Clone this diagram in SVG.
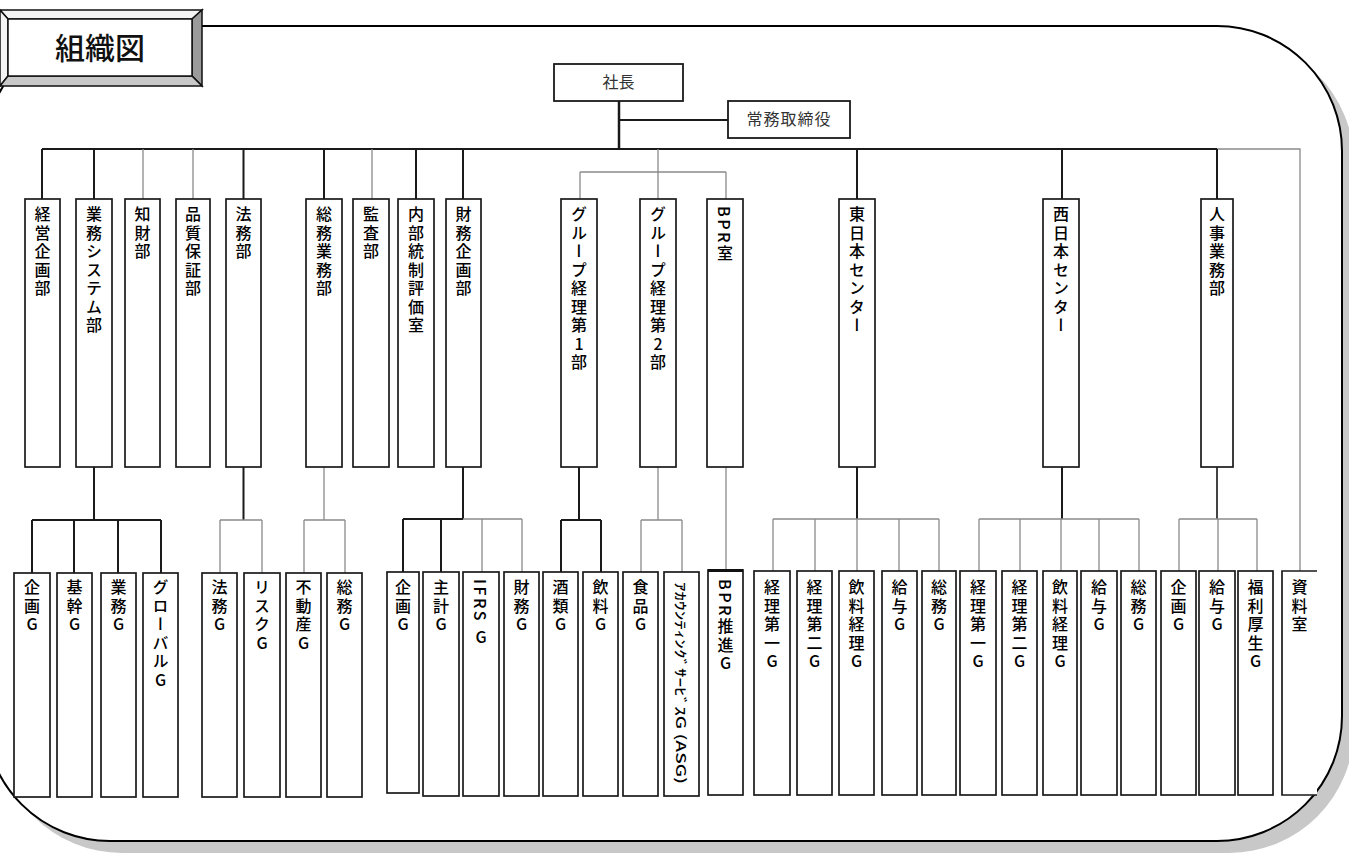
<svg xmlns="http://www.w3.org/2000/svg" width="1349" height="854" viewBox="0 0 1349 854">
<style>
.frame{fill:#fff;stroke:#000;stroke-width:2}
.shadow{fill:#c8c8c8;stroke:none}
.box{fill:#fff;stroke:#1a1a1a;stroke-width:1.7}
.hbox{fill:#fff;stroke:#1a1a1a;stroke-width:1.8}
.d{fill:none;stroke:#1a1a1a;stroke-width:2}
.g{fill:none;stroke:#8a8a8a;stroke-width:1.3}
.v{writing-mode:vertical-rl;text-orientation:upright;font-family:"Noto Sans CJK JP","Noto Sans CJK SC",sans-serif;font-size:16px;font-weight:500;letter-spacing:2.5px;fill:#000}
.vm{writing-mode:vertical-rl;text-orientation:mixed;font-family:"Noto Sans CJK JP","Noto Sans CJK SC",sans-serif;font-size:16px;font-weight:500;letter-spacing:2.5px;fill:#000}
.h{font-family:"Noto Sans CJK JP","Noto Sans CJK SC",sans-serif;font-size:16px;fill:#333;text-anchor:middle}
.t{font-family:"Noto Sans CJK JP","Noto Sans CJK SC",sans-serif;font-size:30px;font-weight:500;fill:#111;text-anchor:middle}
</style>
<rect width="1349" height="854" fill="#fff"/>
<g id="frame">
<rect class="shadow" x="-3" y="38" width="1357" height="815" rx="125" ry="125"/>
<rect class="frame" x="-15" y="26" width="1357" height="815" rx="125" ry="125"/>
</g>
<g id="title">
<polygon points="0,10 202,10 192,19 8,19" fill="#f4f4f4" stroke="#111" stroke-width="1.5"/>
<polygon points="0,10 8,19 8,76 0,86" fill="#f4f4f4" stroke="#111" stroke-width="1.5"/>
<polygon points="202,10 202,86 192,76 192,19" fill="#9a9a9a" stroke="#111" stroke-width="1.5"/>
<polygon points="0,86 8,76 192,76 202,86" fill="#c8c8c8" stroke="#111" stroke-width="1.5"/>
<rect x="8" y="19" width="184" height="57" fill="#fff" stroke="#111" stroke-width="1.5"/>
<text class="t" x="100" y="59">組織図</text>
</g>
<g id="connectors">
<path class="d" d="M619,101V149" style="stroke-width:2.5"/>
<path class="d" d="M619,120H728"/>
<path class="d" d="M42,149H1217"/>
<path class="g" d="M1217,149H1300V572"/>
<path class="d" d="M42,149V199M94,149V199M243.5,149V199M324,149V199M416,149V199M463,149V199M857,149V199M1062,149V199M1217,149V199"/>
<path class="g" d="M143,149V199M193,149V199M372,149V199"/>
<path class="g" d="M658,149V199M580,172H726M580,172V199M726,172V199"/>
<path class="d" d="M94,467V520M32,520H161M32,520V573M74,520V573M118,520V573M161,520V573"/>
<path class="d" d="M243.5,467V520"/>
<path class="g" d="M220,520H262M220,520V573M262,520V573"/>
<path class="g" d="M324,467V520M304,520H345M304,520V573M345,520V573"/>
<path class="d" d="M463,467V519M403,519H463M403,519V572M441,519V572"/>
<path class="g" d="M463,519H522M482,519V572M522,519V572"/>
<path class="d" d="M579,467V520M561,520H601M561,520V572M601,520V572"/>
<path class="g" d="M658,467V520M641,520H682M641,520V572M682,520V572"/>
<path class="g" d="M726,467V570"/>
<path class="d" d="M857,467V519"/>
<path class="g" d="M773,519H939M773,519V571M815,519V571M857,519V571M899,519V571M939,519V571"/>
<path class="d" d="M1062,467V519"/>
<path class="g" d="M979,519H1139M979,519V571M1020,519V571M1061,519V571M1099,519V571M1139,519V571"/>
<path class="d" d="M1217,467V519" style="stroke:#444"/>
<path class="g" d="M1179,519H1257M1179,519V571M1218,519V571M1257,519V571"/>
</g>
<g id="n-shacho"><rect class="hbox" x="554" y="64" width="129" height="37"/><text class="h" x="618.5" y="88">社長</text></g>
<g id="n-jomu"><rect class="hbox" x="728" y="101" width="122" height="37"/><text class="h" x="789" y="125" letter-spacing="1">常務取締役</text></g>

<g id="n-keiei"><rect class="box" x="25" y="199" width="35" height="268"/><text class="v" x="42.5" y="206">経営企画部</text></g>
<g id="n-gyomusys"><rect class="box" x="76" y="199" width="36" height="268"/><text class="v" x="94" y="206" letter-spacing="1.5">業務システム部</text></g>
<g id="n-chizai"><rect class="box" x="125" y="199" width="35" height="268"/><text class="v" x="142.5" y="206">知財部</text></g>
<g id="n-hinshitsu"><rect class="box" x="176" y="199" width="34" height="268"/><text class="v" x="193" y="206">品質保証部</text></g>
<g id="n-homu"><rect class="box" x="226" y="199" width="35" height="268"/><text class="v" x="243.5" y="206">法務部</text></g>
<g id="n-somugyomu"><rect class="box" x="306" y="199" width="36" height="268"/><text class="v" x="324" y="206">総務業務部</text></g>
<g id="n-kansa"><rect class="box" x="353" y="199" width="36" height="268"/><text class="v" x="371" y="206">監査部</text></g>
<g id="n-naibu"><rect class="box" x="398" y="199" width="36" height="268"/><text class="v" x="416" y="206">内部統制評価室</text></g>
<g id="n-zaimu"><rect class="box" x="446" y="199" width="35" height="268"/><text class="v" x="463.5" y="206">財務企画部</text></g>
<g id="n-group1"><rect class="box" x="561" y="199" width="36" height="268"/><text class="v" x="579" y="206" letter-spacing="1.5">グループ経理第1部</text></g>
<g id="n-group2"><rect class="box" x="640" y="199" width="36" height="268"/><text class="v" x="658" y="206" letter-spacing="1.5">グループ経理第2部</text></g>
<g id="n-bpr"><rect class="box" x="707" y="199" width="36" height="268"/><text class="vm" x="725" y="206" letter-spacing="0.5">BPR室</text></g>
<g id="n-higashi"><rect class="box" x="839" y="199" width="36" height="268"/><text class="v" x="857" y="206" letter-spacing="1.5">東日本センター</text></g>
<g id="n-nishi"><rect class="box" x="1043" y="199" width="36" height="268"/><text class="v" x="1061" y="206" letter-spacing="1.5">西日本センター</text></g>
<g id="n-jinji"><rect class="box" x="1201" y="199" width="32" height="268"/><text class="v" x="1217" y="206">人事業務部</text></g>

<g id="n-kikaku1"><rect class="box" x="14" y="573" width="36" height="224"/><text class="v" x="32" y="579">企画G</text></g>
<g id="n-kikan"><rect class="box" x="57" y="573" width="35" height="224"/><text class="v" x="74.5" y="579">基幹G</text></g>
<g id="n-gyomug"><rect class="box" x="101" y="573" width="35" height="224"/><text class="v" x="118.5" y="579">業務G</text></g>
<g id="n-global"><rect class="box" x="143" y="573" width="35" height="224"/><text class="v" x="160.5" y="579">グローバルG</text></g>
<g id="n-homug"><rect class="box" x="202" y="573" width="35" height="224"/><text class="v" x="219.5" y="579">法務G</text></g>
<g id="n-risk"><rect class="box" x="244" y="573" width="36" height="224"/><text class="v" x="262" y="579">リスクG</text></g>
<g id="n-fudosan"><rect class="box" x="286" y="573" width="35" height="224"/><text class="v" x="303.5" y="579">不動産G</text></g>
<g id="n-somug1"><rect class="box" x="327" y="573" width="35" height="224"/><text class="v" x="344.5" y="579">総務G</text></g>
<g id="n-kikaku2"><rect class="box" x="387" y="572" width="32" height="221"/><text class="v" x="403" y="579">企画G</text></g>
<g id="n-shukei"><rect class="box" x="423" y="572" width="36" height="224"/><text class="v" x="441" y="579">主計G</text></g>
<g id="n-ifrs"><rect class="box" x="463" y="572" width="36" height="224"/><text class="vm" x="481" y="579" letter-spacing="0.5">IFRS <tspan style="text-orientation:upright">G</tspan></text></g>
<g id="n-zaimug"><rect class="box" x="504" y="572" width="35" height="224"/><text class="v" x="521.5" y="579">財務G</text></g>
<g id="n-sakerui"><rect class="box" x="543" y="572" width="35" height="224"/><text class="v" x="560.5" y="579">酒類G</text></g>
<g id="n-inryo"><rect class="box" x="583" y="572" width="35" height="224"/><text class="v" x="600.5" y="579">飲料G</text></g>
<g id="n-shokuhin"><rect class="box" x="623" y="572" width="35" height="224"/><text class="v" x="640.5" y="579">食品G</text></g>
<g id="n-asg"><rect class="box" x="664" y="572" width="35" height="224"/><text font-family="Noto Sans CJK JP, sans-serif" font-size="13" font-weight="500" fill="#000" transform="translate(676,582) rotate(90)" textLength="202" lengthAdjust="spacingAndGlyphs">ｱｶｳﾝﾃｨﾝｸﾞｻｰﾋﾞｽG (ASG)</text></g>
<g id="n-bprsuishin"><rect class="box" x="708" y="570" width="35" height="225"/><path d="M708,570.5H743" stroke="#111" stroke-width="3"/><text class="vm" x="725.5" y="579" letter-spacing="1">BPR推進<tspan style="text-orientation:upright">G</tspan></text></g>
<g id="n-e-keiri1"><rect class="box" x="754" y="571" width="36" height="224"/><text class="v" x="772" y="579" letter-spacing="4.5">経理第一G</text></g>
<g id="n-e-keiri2"><rect class="box" x="797" y="571" width="35" height="224"/><text class="v" x="814.5" y="579" letter-spacing="4.5">経理第二G</text></g>
<g id="n-e-inryo"><rect class="box" x="839" y="571" width="35" height="224"/><text class="v" x="856.5" y="579">飲料経理G</text></g>
<g id="n-e-kyuyo"><rect class="box" x="882" y="571" width="35" height="224"/><text class="v" x="899.5" y="579">給与G</text></g>
<g id="n-e-somu"><rect class="box" x="922" y="571" width="34" height="224"/><text class="v" x="939" y="579">総務G</text></g>
<g id="n-w-keiri1"><rect class="box" x="960" y="571" width="36" height="224"/><text class="v" x="978" y="579" letter-spacing="4.5">経理第一G</text></g>
<g id="n-w-keiri2"><rect class="box" x="1002" y="571" width="35" height="224"/><text class="v" x="1019.5" y="579" letter-spacing="4.5">経理第二G</text></g>
<g id="n-w-inryo"><rect class="box" x="1043" y="571" width="34" height="224"/><text class="v" x="1060" y="579">飲料経理G</text></g>
<g id="n-w-kyuyo"><rect class="box" x="1081" y="571" width="36" height="224"/><text class="v" x="1099" y="579">給与G</text></g>
<g id="n-w-somu"><rect class="box" x="1121" y="571" width="35" height="224"/><text class="v" x="1138.5" y="579">総務G</text></g>
<g id="n-j-kikaku"><rect class="box" x="1161" y="571" width="35" height="224"/><text class="v" x="1178.5" y="579">企画G</text></g>
<g id="n-j-kyuyo"><rect class="box" x="1199" y="571" width="36" height="224"/><text class="v" x="1217" y="579">給与G</text></g>
<g id="n-j-fukuri"><rect class="box" x="1238" y="571" width="35" height="224"/><text class="v" x="1255.5" y="579">福利厚生G</text></g>
<g id="n-shiryo"><rect x="1282" y="571" width="35" height="224" fill="#fff"/><path class="box" d="M1317,571H1282V795H1317" style="fill:none"/><text class="v" x="1299.5" y="579">資料室</text></g>
</svg>
